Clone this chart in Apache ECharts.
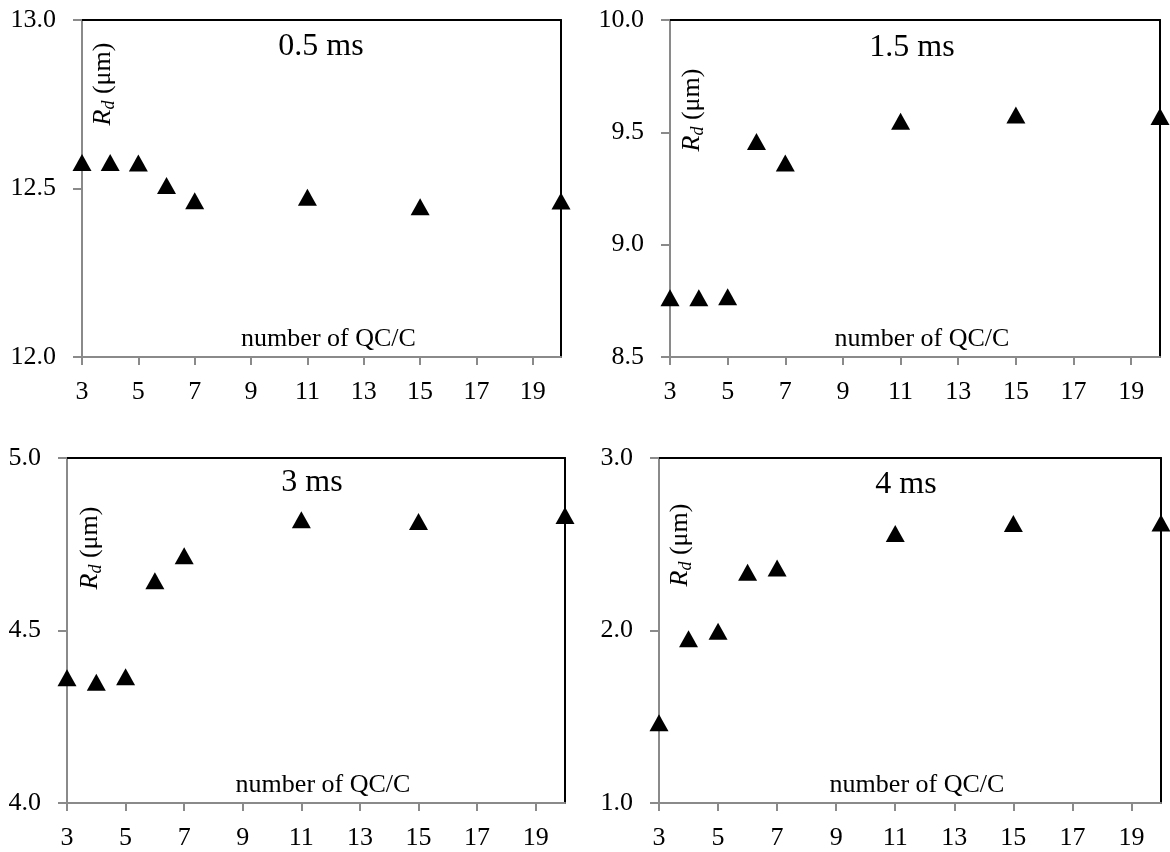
<!DOCTYPE html>
<html>
<head>
<meta charset="utf-8">
<script src="https://cdn.jsdelivr.net/npm/echarts@6/dist/echarts.min.js"></script>
<style>
  html, body { margin: 0; padding: 0; background: #fff; }
  #chart { width: 1170px; height: 852px; }
</style>
</head>
<body>
<div id="chart"></div>
<script>
// data
var qcCounts = [3, 4, 5, 6, 7, 11, 15, 20];
var xTicks = [3, 5, 7, 9, 11, 13, 15, 17, 19];
var rd05 = [12.577, 12.577, 12.576, 12.509, 12.464, 12.474, 12.446, 12.463];
var rd15 = [8.764, 8.764, 8.768, 9.459, 9.364, 9.549, 9.577, 9.571];
var rd3 = [4.363, 4.350, 4.366, 4.644, 4.717, 4.821, 4.816, 4.833];
var rd4 = [1.465, 1.952, 1.996, 2.338, 2.362, 2.563, 2.621, 2.623];
var panelTitles = ['0.5 ms', '1.5 ms', '3 ms', '4 ms'];
var yRanges = [[12, 13, 0.5], [8.5, 10, 0.5], [4, 5, 0.5], [1, 3, 1]];

var FONT = 'Liberation Serif';
var GREY = '#8a8a8a';

// panel layout
var grids = [
  { left: 82, top: 20, width: 479, height: 337 },
  { left: 670, top: 20, width: 490, height: 337 },
  { left: 67, top: 458, width: 498, height: 345 },
  { left: 659, top: 458, width: 502, height: 345 }
];
var titlePos = [[321, 47], [912, 48], [312, 483], [906, 485]];
var namePos = [[103, 84], [692, 110], [90, 548], [680, 545]];
var allSeries = [rd05, rd15, rd3, rd4];

var xAxes = [], yAxes = [], series = [], graphics = [];

grids.forEach(function (g, i) {
  xAxes.push({
    type: 'value', gridIndex: i, position: 'bottom',
    min: 3, max: 20,
    name: 'number of QC/C', nameLocation: 'middle', nameGap: -18,
    nameTextStyle: { fontFamily: FONT, fontSize: 26, color: '#000', verticalAlign: 'middle', padding: [0, 0, 0, 14] },
    axisLine: { lineStyle: { color: GREY, width: 2 } },
    axisTick: { show: true, length: 8, customValues: xTicks, lineStyle: { color: GREY, width: 2 } },
    axisLabel: { customValues: xTicks, margin: 22, fontFamily: FONT, fontSize: 26, color: '#000' },
    splitLine: { show: false }
  });
  xAxes.push({
    type: 'value', gridIndex: i, position: 'top', min: 3, max: 20,
    axisLine: { show: true, lineStyle: { color: '#000', width: 2 } },
    axisTick: { show: false }, axisLabel: { show: false }, splitLine: { show: false }
  });
  var r = yRanges[i];
  yAxes.push({
    type: 'value', gridIndex: i, position: 'left',
    min: r[0], max: r[1], interval: r[2],
    axisLine: { show: true, lineStyle: { color: GREY, width: 2 } },
    axisTick: { show: true, length: 9, lineStyle: { color: GREY, width: 2 } },
    axisLabel: {
      margin: 26, fontFamily: FONT, fontSize: 26, color: '#000',
      formatter: function (v) { return v.toFixed(1); }
    },
    splitLine: { show: false }
  });
  yAxes.push({
    type: 'value', gridIndex: i, position: 'right',
    min: r[0], max: r[1], interval: r[2],
    axisLine: { show: true, lineStyle: { color: '#000', width: 2 } },
    axisTick: { show: false }, axisLabel: { show: false }, splitLine: { show: false }
  });

  var pts = qcCounts.map(function (q, k) { return [q, allSeries[i][k]]; });
  series.push({
    type: 'scatter', name: panelTitles[i],
    xAxisIndex: i * 2, yAxisIndex: i * 2,
    symbol: 'triangle', symbolSize: [19, 17],
    itemStyle: { color: '#000', opacity: 1 },
    data: pts,
    z: 5
  });

  graphics.push({
    type: 'text', x: titlePos[i][0], y: titlePos[i][1],
    style: { text: panelTitles[i], fontFamily: FONT, fontSize: 32, fill: '#000', align: 'center', verticalAlign: 'middle' }
  });
  graphics.push({
    type: 'text', x: namePos[i][0], y: namePos[i][1], rotation: Math.PI / 2,
    style: {
      text: '{r|R}{d|d} (μm)',
      align: 'center', verticalAlign: 'middle',
      fontFamily: FONT, fontSize: 26, fill: '#000',
      rich: {
        r: { fontFamily: FONT, fontSize: 26, fontStyle: 'italic', fill: '#000', lineHeight: 30 },
        d: { fontFamily: FONT, fontSize: 18, fontStyle: 'italic', fill: '#000', verticalAlign: 'bottom', lineHeight: 30, padding: [12, 0, 0, 0] }
      }
    }
  });
});

var myChart = echarts.init(document.getElementById('chart'));
myChart.setOption({
  backgroundColor: '#fff',
  animation: false,
  grid: grids,
  xAxis: xAxes,
  yAxis: yAxes,
  series: series,
  graphic: graphics
});
</script>
</body>
</html>
